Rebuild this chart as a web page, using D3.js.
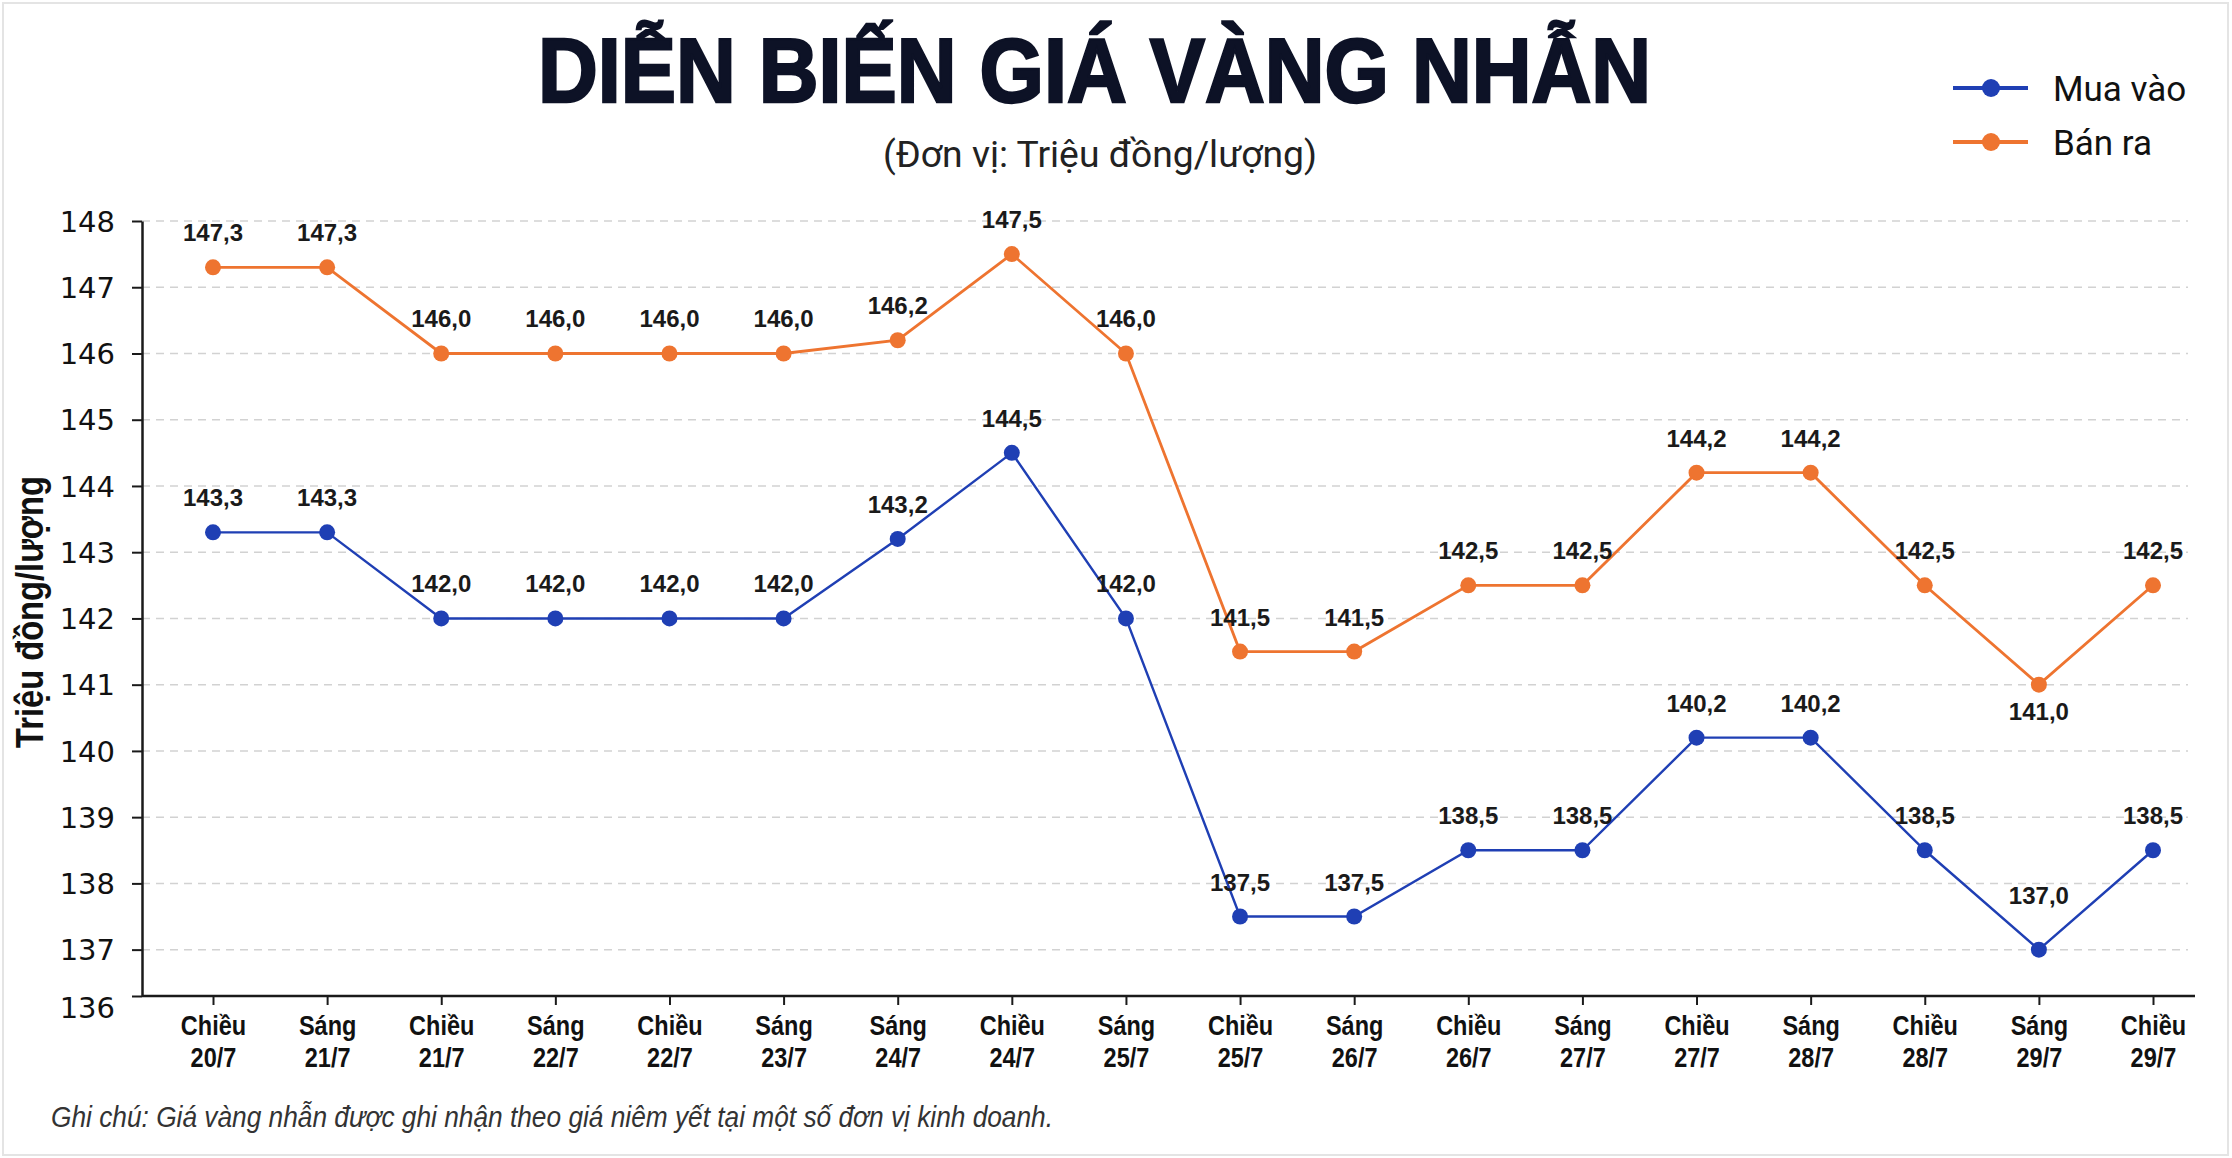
<!DOCTYPE html>
<html lang="vi">
<head>
<meta charset="utf-8">
<script src="https://cdn.jsdelivr.net/npm/d3@7"></script>
<style>
  html, body { margin: 0; padding: 0; background: #ffffff; }
  #chart { width: 2232px; height: 1158px; }
</style>
</head>
<body>
<div id="chart"></div>
<script>
// Chart data
const periods = ["Chiều", "Sáng", "Chiều", "Sáng", "Chiều", "Sáng", "Sáng", "Chiều", "Sáng",
                 "Chiều", "Sáng", "Chiều", "Sáng", "Chiều", "Sáng", "Chiều", "Sáng", "Chiều"];
const dates = ["20/7", "21/7", "21/7", "22/7", "22/7", "23/7", "24/7", "24/7", "25/7",
               "25/7", "26/7", "26/7", "27/7", "27/7", "28/7", "28/7", "29/7", "29/7"];
const buyValues = [143.3, 143.3, 142.0, 142.0, 142.0, 142.0, 143.2, 144.5, 142.0,
                   137.5, 137.5, 138.5, 138.5, 140.2, 140.2, 138.5, 137.0, 138.5];
const sellValues = [147.3, 147.3, 146.0, 146.0, 146.0, 146.0, 146.2, 147.5, 146.0,
                    141.5, 141.5, 142.5, 142.5, 144.2, 144.2, 142.5, 141.0, 142.5];
const yTicks = [136, 137, 138, 139, 140, 141, 142, 143, 144, 145, 146, 147, 148];
const seriesNames = ["Mua vào", "Bán ra"];

function draw_price_chart(chartID) {
    const width = 2232
    const height = 1158
    const left = 142, right = 2192, top = 221, bottom = 996;
    const colors = ["#1f3fb4", "#ee7430"];
    const narrow = "'Liberation Sans', Arial, sans-serif";  // squeezed with transforms below

    d3.select(chartID).html("");

    const svg = d3.select(chartID)
        .append("svg")
        .attr("width", width)
        .attr("height", height);

    // light card frame
    svg.append("rect")
        .attr("x", 3).attr("y", 3)
        .attr("width", width - 7).attr("height", height - 6)
        .attr("fill", "#ffffff")
        .attr("stroke", "#e4e4e4")
        .attr("stroke-width", 2);

    const x = d3.scalePoint()
        .domain(d3.range(periods.length))
        .range([213, 2153]);

    // axis line sits a bit above 136 in the original, so clamp the 136 tick onto it
    const y = d3.scaleLinear()
        .domain([136.3, 148])
        .range([bottom, top])
        .clamp(true);

    // Title + subtitle
    svg.append("text")
        .attr("x", 538).attr("y", 102)
        .attr("textLength", 1113)
        .attr("lengthAdjust", "spacingAndGlyphs")
        .style("font-family", narrow)
        .style("font-weight", "700")
        .style("font-size", "90px")
        .attr("fill", "#0d1226")
        .attr("stroke", "#0d1226")
        .attr("stroke-width", 2.5)
        .text("DIỄN BIẾN GIÁ VÀNG NHẪN");

    svg.append("text")
        .attr("x", 883).attr("y", 167)
        .attr("textLength", 434)
        .attr("lengthAdjust", "spacingAndGlyphs")
        .style("font-family", "Roboto, sans-serif")
        .style("font-size", "37px")
        .attr("fill", "#222")
        .text("(Đơn vị: Triệu đồng/lượng)");

    // Grid lines
    svg.append("g")
        .selectAll("line")
        .data(yTicks.filter(d => d > 136))
        .enter()
        .append("line")
        .attr("x1", left).attr("x2", right - 4)
        .attr("y1", d => y(d)).attr("y2", d => y(d))
        .attr("stroke", "#d2d2d2")
        .attr("stroke-width", 1.5)
        .attr("stroke-dasharray", "8,6");

    // Y axis
    const yAxis = svg.append("g")
        .attr("transform", `translate(${left},0)`)
        .call(d3.axisLeft(y).tickValues(yTicks).tickSize(10).tickPadding(17).tickSizeOuter(0));
    yAxis.select(".domain").attr("stroke", "#1a1a1a").attr("stroke-width", 2.5);
    yAxis.selectAll(".tick line").attr("stroke", "#1a1a1a").attr("stroke-width", 2);
    yAxis.selectAll(".tick text")
        .style("font-family", "'DejaVu Sans', sans-serif")
        .style("font-size", "29px")
        .attr("fill", "#111")
        .attr("dy", d => d === 136 ? "0.75em" : "0.35em");

    // X axis
    const xAxis = svg.append("g")
        .attr("transform", `translate(0,${bottom})`)
        .call(d3.axisBottom(x).tickSize(9).tickSizeOuter(0).tickFormat(""));
    xAxis.select(".domain")
        .attr("d", `M${left},0H${right + 3}`)
        .attr("stroke", "#1a1a1a").attr("stroke-width", 2.5);
    xAxis.selectAll(".tick line").attr("stroke", "#1a1a1a").attr("stroke-width", 2);

    const xLabels = xAxis.selectAll(".tick").append("text")
        .attr("fill", "#111")
        .attr("text-anchor", "middle")
        .attr("transform", "scale(0.84,1)")
        .style("font-family", narrow)
        .style("font-weight", "700")
        .style("font-size", "28px");
    xLabels.append("tspan").attr("x", 0).attr("y", 39).text(i => periods[i]);
    xLabels.append("tspan").attr("x", 0).attr("y", 71).text(i => dates[i]);

    // Y axis title
    svg.append("text")
        .attr("transform", "translate(43,612) rotate(-90) scale(0.86,1)")
        .attr("text-anchor", "middle")
        .style("font-family", narrow)
        .style("font-weight", "700")
        .style("font-size", "38px")
        .attr("fill", "#111")
        .text("Triệu đồng/lượng");

    // Lines + markers + value labels
    const line = d3.line()
        .x((d, i) => x(i))
        .y(d => y(d));

    const fmt = v => d3.format(".1f")(v).replace(".", ",");

    [buyValues, sellValues].forEach((values, s) => {
        const g = svg.append("g");
        g.append("path")
            .datum(values)
            .attr("d", line)
            .attr("fill", "none")
            .attr("stroke", colors[s])
            .attr("stroke-width", s === 0 ? 2.4 : 2.8);

        g.selectAll("circle")
            .data(values)
            .enter()
            .append("circle")
            .attr("cx", (d, i) => x(i))
            .attr("cy", d => y(d))
            .attr("r", 8)
            .attr("fill", colors[s]);

        // local minimum -> label moved (below for sell, higher for buy)
        const isMin = i => i > 0 && i < values.length - 1 &&
            values[i] < values[i - 1] && values[i] < values[i + 1];

        g.selectAll("text")
            .data(values)
            .enter()
            .append("text")
            .attr("x", (d, i) => x(i))
            .attr("y", (d, i) => y(d) + (isMin(i) ? (s === 1 ? 35 : -46) : -26))
            .attr("text-anchor", "middle")
            .style("font-family", "'Liberation Sans', Arial, sans-serif")
            .style("font-weight", "700")
            .style("font-size", "24px")
            .attr("fill", "#1a1a1a")
            .text(d => fmt(d));
    });

    // Legend top right
    const legend = svg.selectAll(".legend")
        .data(seriesNames)
        .enter()
        .append("g")
        .attr("class", "legend")
        .attr("transform", (d, i) => `translate(1953, ${88 + i * 54})`);

    legend.append("line")
        .attr("x1", 0).attr("x2", 75)
        .attr("stroke", (d, i) => colors[i])
        .attr("stroke-width", 4);
    legend.append("circle")
        .attr("cx", 38).attr("r", 9)
        .attr("fill", (d, i) => colors[i]);
    legend.append("text")
        .attr("x", 100)
        .attr("dy", "0.36em")
        .style("font-family", "Roboto, sans-serif")
        .style("font-size", "35px")
        .attr("fill", "#111")
        .text(d => d);

    // Footnote
    svg.append("text")
        .attr("x", 51).attr("y", 1127)
        .attr("textLength", 1002)
        .attr("lengthAdjust", "spacingAndGlyphs")
        .style("font-family", narrow)
        .style("font-style", "italic")
        .style("font-size", "30px")
        .attr("fill", "#333")
        .text("Ghi chú: Giá vàng nhẫn được ghi nhận theo giá niêm yết tại một số đơn vị kinh doanh.");
}

draw_price_chart("#chart");
</script>
</body>
</html>
